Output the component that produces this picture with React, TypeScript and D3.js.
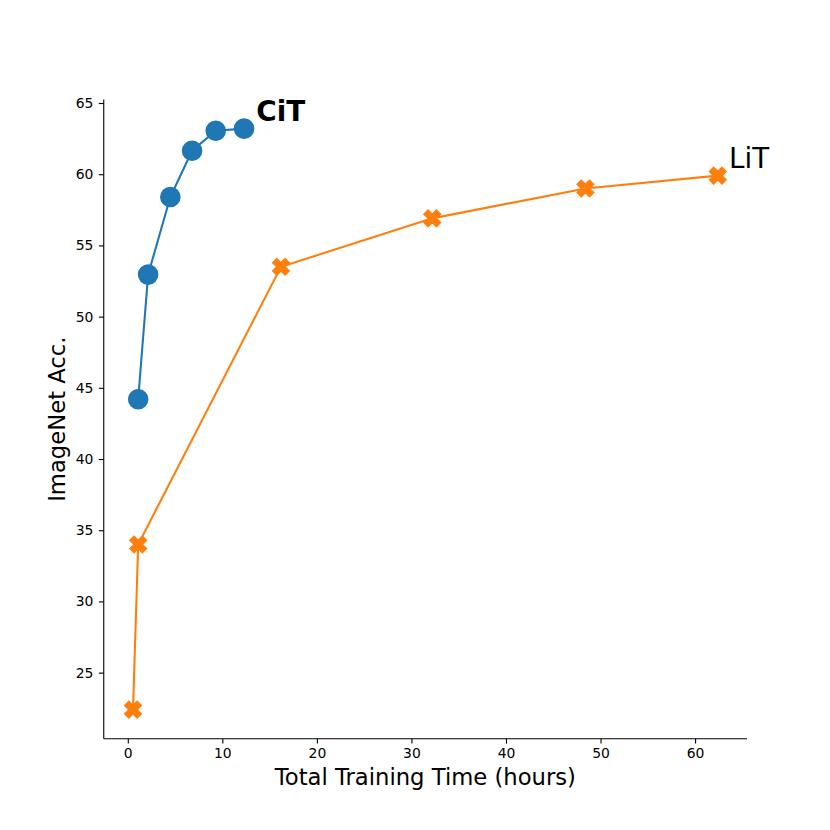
import { useEffect, useRef } from 'react'
import * as d3 from 'd3'

// CiT series (hours, ImageNet acc.)
const CIT_HOURS = [1.1, 2.15, 4.5, 6.8, 9.3, 12.3]
const CIT_ACC = [44.2, 52.95, 58.4, 61.65, 63.05, 63.2]
// LiT series
const LIT_HOURS = [0.55, 1.1, 16.2, 32.2, 48.4, 62.4]
const LIT_ACC = [22.4, 34.0, 53.5, 56.9, 59.0, 59.9]

const X_TICKS = [0, 10, 20, 30, 40, 50, 60]
const Y_TICKS = [25, 30, 35, 40, 45, 50, 55, 60, 65]

const BLUE = '#1f77b4'
const ORANGE = '#ff7f0e'
const FONT = '"DejaVu Sans", sans-serif'

export default function App() {
  const svgRef = useRef<SVGSVGElement>(null)

  useEffect(() => {
    const svgEl = svgRef.current
    if (!svgEl) return
    const W = 830
    const H = 830
    const left = 103.75, right = 747, top = 99.6, bottom = 738.7

    const allX = [...CIT_HOURS, ...LIT_HOURS]
    const allY = [...CIT_ACC, ...LIT_ACC]
    const [x0, x1] = d3.extent(allX) as [number, number]
    const [y0, y1] = d3.extent(allY) as [number, number]
    const mx = (x1 - x0) * 0.05
    const my = (y1 - y0) * 0.05
    const x = d3.scaleLinear().domain([x0 - mx, x1 + mx]).range([left, right])
    const y = d3.scaleLinear().domain([y0 - my, y1 + my]).range([bottom, top])

    const svg = d3.select(svgEl).attr('viewBox', `0 0 ${W} ${H}`)
    svg.selectAll('*').remove()
    svg.append('rect').attr('width', W).attr('height', H).attr('fill', 'white')

    // axes (left and bottom spines only)
    const xAxis = svg.append('g').attr('transform', `translate(0,${bottom})`)
      .call(d3.axisBottom(x).tickValues(X_TICKS).tickSize(4.9).tickPadding(4.5).tickSizeOuter(0))
    const yAxis = svg.append('g').attr('transform', `translate(${left},0)`)
      .call(d3.axisLeft(y).tickValues(Y_TICKS).tickSize(4.9).tickPadding(5.5).tickSizeOuter(0))
    ;[xAxis, yAxis].forEach((a) => {
      a.select('.domain').attr('stroke', 'black').attr('stroke-width', 1.1)
      a.selectAll('.tick line').attr('stroke', 'black').attr('stroke-width', 1.1)
      a.selectAll('.tick text').attr('fill', 'black').attr('font-size', 13.9).attr('font-family', FONT)
    })
    yAxis.select('.domain').attr('d', `M0,${bottom}V${top}`)
    xAxis.select('.domain').attr('d', `M${left},0H${right}`)

    // axis labels
    svg.append('text').attr('x', (left + right) / 2).attr('y', 785)
      .attr('text-anchor', 'middle').attr('font-size', 22.7).attr('font-family', FONT)
      .attr('fill', 'black').text('Total Training Time (hours)')
    svg.append('text').attr('transform', `translate(65,${(top + bottom) / 2}) rotate(-90)`)
      .attr('text-anchor', 'middle').attr('font-size', 22.7).attr('font-family', FONT)
      .attr('fill', 'black').text('ImageNet Acc.')

    const line = d3.line<[number, number]>().x((d) => x(d[0])).y((d) => y(d[1]))

    // CiT
    const cit = CIT_HOURS.map((h, i) => [h, CIT_ACC[i]] as [number, number])
    svg.append('path').attr('d', line(cit)).attr('fill', 'none').attr('stroke', BLUE).attr('stroke-width', 2.08)
    svg.append('g').selectAll('circle').data(cit).join('circle')
      .attr('cx', (d) => x(d[0])).attr('cy', (d) => y(d[1])).attr('r', 9.6)
      .attr('fill', BLUE).attr('stroke', BLUE).attr('stroke-width', 1.39)

    // LiT
    const lit = LIT_HOURS.map((h, i) => [h, LIT_ACC[i]] as [number, number])
    svg.append('path').attr('d', line(lit)).attr('fill', 'none').attr('stroke', ORANGE).attr('stroke-width', 2.08)
    const s = 16.6
    const xPts = [
      [-0.25, -0.5], [0, -0.25], [0.25, -0.5], [0.5, -0.25], [0.25, 0], [0.5, 0.25],
      [0.25, 0.5], [0, 0.25], [-0.25, 0.5], [-0.5, 0.25], [-0.25, 0], [-0.5, -0.25],
    ]
    const xPath = 'M' + xPts.map((p) => `${p[0] * s},${p[1] * s}`).join('L') + 'Z'
    svg.append('g').selectAll('path').data(lit).join('path')
      .attr('d', xPath).attr('transform', (d) => `translate(${x(d[0])},${y(d[1])})`)
      .attr('fill', ORANGE).attr('stroke', ORANGE).attr('stroke-width', 1.39).attr('stroke-linejoin', 'miter')

    // series labels
    svg.append('text').attr('x', x(13.6)).attr('y', y(63.75))
      .attr('font-size', 27.8).attr('font-weight', 'bold').attr('font-family', FONT)
      .attr('fill', 'black').text('CiT')
    svg.append('text').attr('x', x(63.6)).attr('y', y(60.45))
      .attr('font-size', 27.8).attr('font-family', FONT)
      .attr('fill', 'black').text('LiT')

    return () => { svg.selectAll('*').remove() }
  }, [])

  return (
    <svg ref={svgRef} width={830} height={830}
      style={{ position: 'absolute', left: 0, top: 0, display: 'block' }} />
  )
}
